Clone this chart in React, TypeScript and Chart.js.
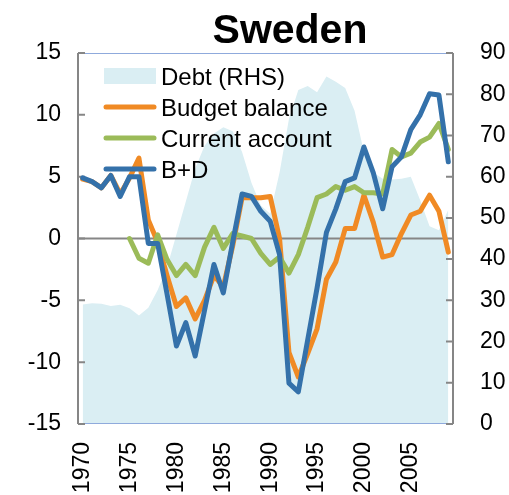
import React, { useEffect, useRef } from 'react';
import { Chart, registerables } from 'chart.js';

Chart.register(...registerables);

const years = [
  '1970', '1971', '1972', '1973', '1974', '1975', '1976', '1977', '1978', '1979',
  '1980', '1981', '1982', '1983', '1984', '1985', '1986', '1987', '1988', '1989',
  '1990', '1991', '1992', '1993', '1994', '1995', '1996', '1997', '1998', '1999',
  '2000', '2001', '2002', '2003', '2004', '2005', '2006', '2007', '2008', '2009',
];

const debt = [
  29, 29.3, 29.2, 28.6, 28.9, 28.1, 26.3, 28.2, 32.5, 38,
  46, 54, 62, 67.5, 70.5, 72, 71, 66, 58.5, 53,
  51, 61, 74, 81, 82, 80.5, 84.3, 83, 81.5, 76,
  66, 61, 59.5, 59.3, 59.5, 60, 54.3, 48, 47, 52,
];

const budgetBalance = [
  4.8, 4.6, 4.1, 5.1, 3.6, 4.9, 6.5, 1.5, -0.3, -3.0,
  -5.5, -4.8, -6.5, -5.0, -3.0, -3.9, -0.6, 3.3, 3.3, 3.3,
  3.4, 0.0, -9.2, -11.2, -9.3, -7.3, -3.3, -1.9, 0.8, 0.8,
  3.5, 1.3, -1.5, -1.3, 0.4, 1.9, 2.2, 3.5, 2.2, -1.1,
];

const currentAccount = [
  null, null, null, null, null, 0.0, -1.6, -2.0, 0.3, -1.7,
  -3.0, -2.1, -3.0, -0.7, 0.9, -0.8, 0.4, 0.2, 0.0, -1.2,
  -2.1, -1.5, -2.8, -1.3, 0.9, 3.3, 3.6, 4.2, 3.9, 4.2,
  3.7, 3.7, 3.6, 7.2, 6.6, 6.9, 7.8, 8.2, 9.3, 7.2,
];

const bPlusD = [
  4.9, 4.6, 4.1, 5.1, 3.4, 5.0, 5.0, -0.4, -0.4, -4.5,
  -8.7, -6.8, -9.5, -5.8, -2.1, -4.4, -0.3, 3.6, 3.4, 2.2,
  1.4, -1.3, -11.7, -12.4, -8.2, -4.0, 0.5, 2.4, 4.6, 4.9,
  7.4, 5.3, 2.4, 5.8, 6.6, 8.8, 10.0, 11.7, 11.6, 6.2,
];

const leftTicks = [-15, -10, -5, 0, 5, 10, 15];
const rightTicks = [0, 10, 20, 30, 40, 50, 60, 70, 80, 90];

const title = 'Sweden';
const seriesNames = ['Debt (RHS)', 'Budget balance', 'Current account', 'B+D'];
const seriesColors = ['#DAEEF3', '#F08A24', '#9BBB59', '#3471AA'];

export default function App() {
  const ref = useRef<HTMLCanvasElement>(null);

  useEffect(() => {
    const canvas = ref.current;
    if (!canvas) return;
    const FONT = "'Liberation Sans', Arial, sans-serif";
    const AXIS_GRAY = '#868686';

    const framePlugin = {
      id: 'frame',
      afterDatasetDraw(chart: any, args: any) {
        if (args.index !== 0) return;
        const { ctx, chartArea } = chart;
        const { left, right, top, bottom } = chartArea;
        const y = chart.scales.y;
        const y1 = chart.scales.y1;
        ctx.save();
        // plot border (top & bottom)
        ctx.strokeStyle = '#8FAADC';
        ctx.lineWidth = 1;
        ctx.beginPath();
        ctx.moveTo(left, Math.round(top) + 0.5);
        ctx.lineTo(right, Math.round(top) + 0.5);
        ctx.moveTo(left, Math.round(bottom) - 0.5);
        ctx.lineTo(right, Math.round(bottom) - 0.5);
        ctx.stroke();
        // zero line
        ctx.strokeStyle = AXIS_GRAY;
        ctx.lineWidth = 2;
        const z = y.getPixelForValue(0);
        ctx.beginPath();
        ctx.moveTo(left, z);
        ctx.lineTo(right, z);
        ctx.stroke();
        // left axis
        ctx.beginPath();
        ctx.moveTo(left, top);
        ctx.lineTo(left, bottom);
        leftTicks.forEach((v) => {
          const p = y.getPixelForValue(v);
          ctx.moveTo(left, p);
          ctx.lineTo(left + 7, p);
        });
        // right axis
        ctx.moveTo(right, top);
        ctx.lineTo(right, bottom);
        rightTicks.forEach((v) => {
          const p = y1.getPixelForValue(v);
          ctx.moveTo(right, p);
          ctx.lineTo(right - 7, p);
        });
        ctx.stroke();
        ctx.restore();
      },
    };

    const overlayPlugin = {
      id: 'overlay',
      afterDatasetsDraw(chart: any) {
        const { ctx } = chart;
        ctx.save();
        // title
        ctx.fillStyle = '#000';
        ctx.font = `bold 41px ${FONT}`;
        ctx.textAlign = 'center';
        ctx.textBaseline = 'alphabetic';
        ctx.fillText(title, 290, 43);
        // legend
        const sx0 = 104;
        const sx1 = 156;
        const tx = 161;
        const rows = [76, 107, 138, 169];
        ctx.font = `24px ${FONT}`;
        ctx.textAlign = 'left';
        seriesNames.forEach((name, i) => {
          const cy = rows[i];
          if (i === 0) {
            ctx.fillStyle = seriesColors[0];
            ctx.fillRect(sx0, cy - 8, sx1 - sx0, 16);
          } else {
            ctx.strokeStyle = seriesColors[i];
            ctx.lineWidth = 5;
            ctx.lineCap = 'round';
            ctx.beginPath();
            ctx.moveTo(sx0 + 2, cy);
            ctx.lineTo(sx1 - 2, cy);
            ctx.stroke();
          }
          ctx.fillStyle = '#000';
          ctx.fillText(name, tx, cy + 8.6);
        });
        ctx.restore();
      },
    };

    const lineDefaults = {
      type: 'line' as const,
      pointRadius: 0,
      borderWidth: 5,
      tension: 0,
      fill: false,
      borderJoinStyle: 'round' as const,
      borderCapStyle: 'round' as const,
      spanGaps: false,
    };

    const chart = new Chart(canvas, {
      type: 'line',
      data: {
        labels: years,
        datasets: [
          {
            ...lineDefaults,
            label: seriesNames[0],
            data: debt,
            yAxisID: 'y1',
            fill: 'origin',
            backgroundColor: seriesColors[0],
            borderColor: 'rgba(0,0,0,0)',
            borderWidth: 0,
            order: 4,
          },
          {
            ...lineDefaults,
            label: seriesNames[1],
            data: budgetBalance,
            yAxisID: 'y',
            borderColor: seriesColors[1],
            order: 3,
          },
          {
            ...lineDefaults,
            label: seriesNames[2],
            data: currentAccount,
            yAxisID: 'y',
            borderColor: seriesColors[2],
            order: 2,
          },
          {
            ...lineDefaults,
            label: seriesNames[3],
            data: bPlusD,
            yAxisID: 'y',
            borderColor: seriesColors[3],
            order: 1,
          },
        ],
      },
      options: {
        responsive: false,
        animation: false,
        events: [],
        layout: { padding: { top: 53, left: 0, right: 0, bottom: 0 } },
        plugins: {
          legend: { display: false },
          title: { display: false },
          tooltip: { enabled: false },
        },
        scales: {
          x: {
            type: 'category',
            offset: true,
            grid: { display: false, drawTicks: false },
            border: { display: false },
            ticks: {
              autoSkip: false,
              maxRotation: 90,
              minRotation: 90,
              padding: 18,
              color: '#000',
              font: { family: FONT, size: 23 },
              callback: (_v: any, i: number) => (Number(years[i]) % 5 === 0 ? years[i] : ''),
            },
            afterFit: (s: any) => {
              s.height = 71;
            },
          },
          y: {
            position: 'left',
            min: -15,
            max: 15,
            grid: { display: false, drawTicks: false },
            border: { display: false },
            ticks: {
              stepSize: 5,
              padding: 17,
              color: '#000',
              font: { family: FONT, size: 23 },
            },
            afterFit: (s: any) => {
              s.width = 78;
            },
          },
          y1: {
            position: 'right',
            min: 0,
            max: 90,
            grid: { display: false, drawTicks: false },
            border: { display: false },
            ticks: {
              stepSize: 10,
              padding: 27,
              color: '#000',
              font: { family: FONT, size: 23 },
            },
            afterFit: (s: any) => {
              s.width = 56;
            },
          },
        },
      },
      plugins: [framePlugin, overlayPlugin],
    });

    return () => chart.destroy();
  }, []);

  return (
    <div style={{ position: 'fixed', left: 0, top: 0, width: 509, height: 495, background: '#fff' }}>
      <canvas ref={ref} width={509} height={495} style={{ display: 'block' }} />
    </div>
  );
}
